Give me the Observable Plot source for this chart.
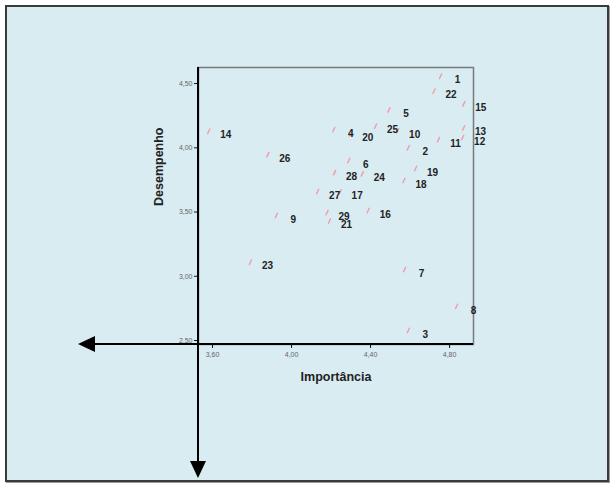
<!DOCTYPE html>
<html>
<head>
<meta charset="utf-8">
<script src="https://cdn.jsdelivr.net/npm/d3@7"></script>
<script src="https://cdn.jsdelivr.net/npm/@observablehq/plot@0.6"></script>
<style>
  html, body { margin: 0; padding: 0; background: #fff; }
  #wrap { position: relative; width: 616px; height: 492px; }
  #box { position: absolute; left: 5px; top: 5px; width: 600px; height: 473px;
         border: 2px solid #3a3a3a; background: #d9ecf2; box-shadow: 1px 1px 0 #9a9a9a; }
  #chart { position: absolute; left: 0; top: 0; }
  #chart svg { background: transparent; overflow: visible; }
</style>
</head>
<body>
<div id="wrap"><div id="box"></div><div id="chart"></div></div>
<script>
// Data
const ids = ["1","2","3","4","5","6","7","8","9","10","11","12","13","14","15","16","17","18","19","20","21","22","23","24","25","26","27","28","29"];
const importancia = [4.754,4.591,4.591,4.214,4.493,4.290,4.572,4.835,3.923,4.537,4.744,4.866,4.871,3.581,4.872,4.388,4.246,4.569,4.628,4.300,4.192,4.721,3.792,4.358,4.425,3.880,4.132,4.218,4.180];
const desempenho = [4.557,4.000,2.578,4.142,4.295,3.901,3.053,2.765,3.473,4.132,4.064,4.080,4.154,4.129,4.342,3.512,3.656,3.745,3.839,4.109,3.430,4.440,3.109,3.797,4.168,3.947,3.660,3.807,3.496];
const xTicks = [3.6, 4.0, 4.4, 4.8];
const yTicks = [2.5, 3.0, 3.5, 4.0, 4.5];
const xDomain = [3.529, 4.921];
const yDomain = [2.469, 4.625];
const xLabel = "Importância";
const yLabel = "Desempenho";

const rows = ids.map((id, i) => ({id, x: importancia[i], y: desempenho[i]}));
const fmt = v => d3.format(".2f")(v).replace(".", ",");
const font = "'Liberation Sans', Arial, sans-serif";

const mL = 198, mR = 143, mT = 67, mB = 148;

const stroke1 = {draw(context, l) { context.moveTo(0, 0); context.lineTo(0, -l); }};

const plot = Plot.plot({
  width: 616, height: 492,
  marginLeft: mL, marginRight: mR, marginTop: mT, marginBottom: mB,
  style: {fontFamily: font, background: "transparent"},
  x: {domain: xDomain},
  y: {domain: yDomain},
  marks: [
    Plot.frame({stroke: "#7a7a7a", strokeWidth: 1.5}),
    Plot.axisX({ticks: xTicks, tickFormat: fmt, tickSize: 4, tickPadding: 4, fontSize: 7, color: "#666", stroke: "#111", label: null}),
    Plot.axisY({ticks: yTicks, tickFormat: fmt, tickSize: 4, tickPadding: 2, fontSize: 7, color: "#666", stroke: "#111", label: null}),
    Plot.vector(rows, {x: "x", y: "y", length: 5, rotate: 25, anchor: "middle", shape: stroke1, stroke: "#f29aa6", strokeWidth: 1.4}),
    Plot.text(rows, {x: "x", y: "y", text: "id", dx: 17, dy: 4, fontSize: 10, fontWeight: "bold", fill: "#222"}),
    Plot.text([xLabel], {frameAnchor: "bottom", dy: 36, fontSize: 12.5, fontWeight: "bold", fill: "#222"}),
    Plot.text([yLabel], {frameAnchor: "left", dx: -40, rotate: -90, fontSize: 12.5, fontWeight: "bold", fill: "#222"})
  ]
});

document.getElementById("chart").appendChild(plot);

// Decorative extended axes with arrowheads, positioned from the scales
const sx = plot.scale("x"), sy = plot.scale("y");
const x0 = sx.apply(xDomain[0]), x1 = sx.apply(xDomain[1]);
const y0 = sy.apply(yDomain[0]), y1 = sy.apply(yDomain[1]);
const leftTip = 78, downTip = 478, ah = 17, aw = 8;
const svg = d3.select(plot);
const g = svg.append("g").attr("fill", "#000").attr("stroke", "#000");
g.append("line").attr("x1", leftTip + ah - 2).attr("x2", x1).attr("y1", y0).attr("y2", y0).attr("stroke-width", 2);
g.append("line").attr("x1", x0).attr("x2", x0).attr("y1", y1).attr("y2", downTip - ah + 2).attr("stroke-width", 2);
g.append("path").attr("stroke", "none").attr("d", `M${leftTip},${y0}L${leftTip + ah},${y0 - aw}L${leftTip + ah},${y0 + aw}Z`);
g.append("path").attr("stroke", "none").attr("d", `M${x0},${downTip}L${x0 - aw},${downTip - ah}L${x0 + aw},${downTip - ah}Z`);
</script>
</body>
</html>
